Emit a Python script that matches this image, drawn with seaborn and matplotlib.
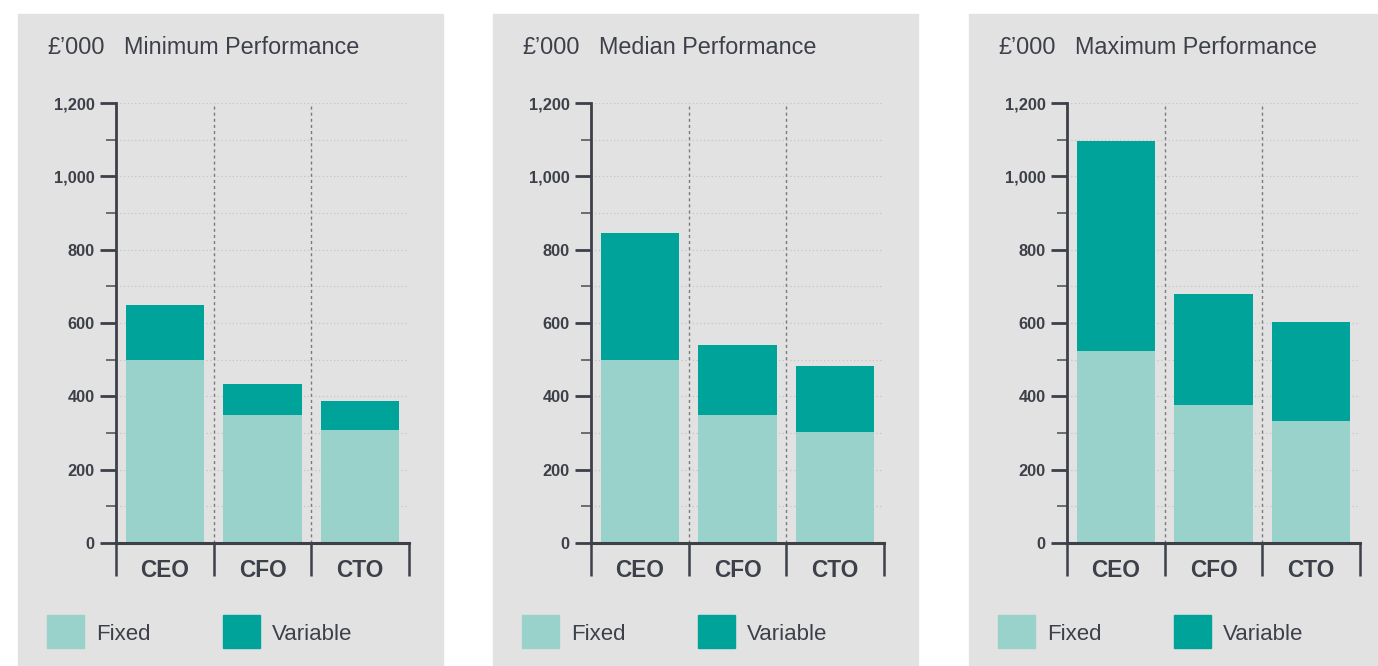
import numpy as np
import pandas as pd
import seaborn as sns
import matplotlib.pyplot as plt
from matplotlib.patches import Rectangle
from matplotlib.ticker import MultipleLocator, FuncFormatter

# values (GBP thousands)
roles = ["CEO", "CFO", "CTO"]
scenarios = ["Minimum Performance", "Median Performance", "Maximum Performance"]
fixed_pay = {
    "Minimum Performance": [500, 350, 308],
    "Median Performance": [500, 349, 303],
    "Maximum Performance": [524, 376, 333],
}
variable_pay = {
    "Minimum Performance": [150, 84, 79],
    "Median Performance": [345, 191, 180],
    "Maximum Performance": [572, 303, 270],
}
legend_labels = ["Fixed", "Variable"]

FIXED_C = "#99d1cb"
VAR_C = "#00a39a"
BG = "#e2e2e2"
INK = "#3d4049"

W, H = 1378, 666
plt.rcParams['font.family'] = ['Liberation Sans', 'DejaVu Sans']
fig = plt.figure(figsize=(W / 100, H / 100), dpi=100, facecolor="white")

panel_x = [18, 493, 969]
for i, scen in enumerate(scenarios):
    x0 = panel_x[i]
    fig.add_artist(Rectangle((x0 / W, 0), 425 / W, (H - 14) / H,
                             transform=fig.transFigure, color=BG, zorder=0))

    ax = fig.add_axes([(x0 + 98) / W, (H - 543) / H, 293 / W, 440 / H])
    ax.set_facecolor(BG)

    df = pd.DataFrame({"role": roles, "fixed": fixed_pay[scen],
                       "variable": variable_pay[scen]})
    df["total"] = df["fixed"] + df["variable"]

    sns.barplot(data=df, x="role", y="total", color=VAR_C, saturation=1,
                width=0.8, ax=ax, zorder=3)
    sns.barplot(data=df, x="role", y="fixed", color=FIXED_C, saturation=1,
                width=0.8, ax=ax, zorder=4)

    ax.set_xlim(-0.5, 2.5)
    ax.set_ylim(0, 1200)
    ax.set_xlabel("")
    ax.set_ylabel("")

    # y axis
    ax.yaxis.set_major_locator(MultipleLocator(200))
    ax.yaxis.set_minor_locator(MultipleLocator(100))
    ax.yaxis.set_major_formatter(FuncFormatter(lambda v, p: f"{int(v):,}"))
    ax.tick_params(axis="y", which="major", length=11.5, width=2, color=INK,
                   labelsize=11.8, labelcolor=INK, pad=4)
    ax.tick_params(axis="y", which="minor", length=7, width=1.2, color="#55585f")
    for lab in ax.get_yticklabels():
        lab.set_fontweight("bold")
    ax.grid(axis="y", which="both", linestyle=(0, (1, 2)), color="#c4c4c4",
            linewidth=0.9, zorder=1)

    # x axis: separators below, labels centred
    ax.set_xticks(np.arange(-0.5, 3, 1), minor=True)
    ax.tick_params(axis="x", which="minor", length=24, width=1.8, color=INK)
    ax.tick_params(axis="x", which="major", length=0, pad=11.5, labelsize=16.3,
                   labelcolor=INK)
    for lab in ax.get_xticklabels():
        lab.set_fontweight("bold")
    for xd in [0.5, 1.5]:
        ax.axvline(xd, color="#7a7a7a", linestyle=(0, (2.2, 2.2)), linewidth=1,
                   zorder=2)

    for s in ["top", "right"]:
        ax.spines[s].set_visible(False)
    ax.spines["left"].set_color(INK)
    ax.spines["left"].set_linewidth(2)
    ax.spines["bottom"].set_color(INK)
    ax.spines["bottom"].set_linewidth(2.2)
    ax.spines["left"].set_zorder(5)
    ax.spines["bottom"].set_zorder(5)

    # titles
    fig.text((x0 + 29) / W, (H - 47) / H, "£’000", fontsize=16.8, color=INK,
             va="center", ha="left")
    fig.text((x0 + 106) / W, (H - 47) / H, scen, fontsize=16.8, color=INK,
             va="center", ha="left")

    # legend
    for j, (lab, col) in enumerate(zip(legend_labels, [FIXED_C, VAR_C])):
        lx = x0 + 29 + j * 176
        fig.add_artist(Rectangle((lx / W, (H - 648) / H), 37 / W, 33 / H,
                                 transform=fig.transFigure, color=col))
        fig.text((lx + 49) / W, (H - 635) / H, lab, fontsize=16, color=INK,
                 va="center", ha="left")

fig.savefig("out.png", dpi=100, facecolor="white")
